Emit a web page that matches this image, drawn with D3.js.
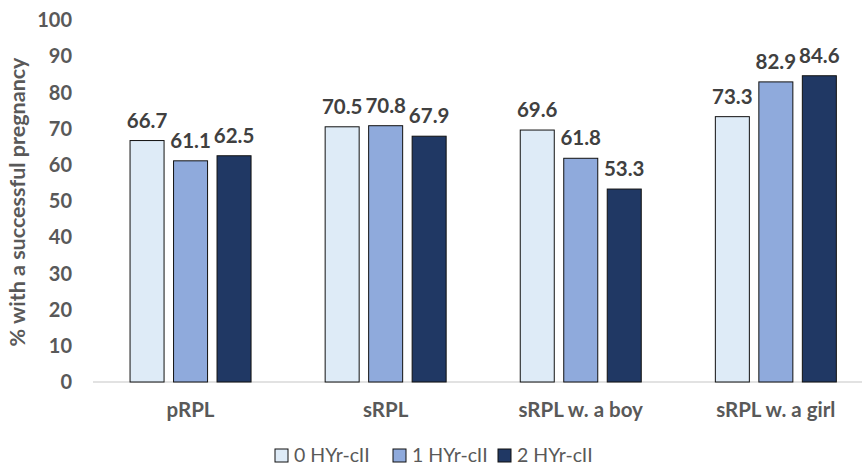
<!DOCTYPE html>
<html><head><meta charset="utf-8">
<script src="https://cdn.jsdelivr.net/npm/d3@7"></script>
<style>html,body{margin:0;padding:0;background:#fff}svg{display:block}</style>
</head><body><svg id="c" width="862" height="465"></svg>
<script>
const categories = ["pRPL", "sRPL", "sRPL w. a boy", "sRPL w. a girl"];
const seriesNames = ["0 HYr-cII", "1 HYr-cII", "2 HYr-cII"];
const s0 = [66.7, 70.5, 69.6, 73.3];
const s1 = [61.1, 70.8, 61.8, 82.9];
const s2 = [62.5, 67.9, 53.3, 84.6];
const yTicks = [0, 10, 20, 30, 40, 50, 60, 70, 80, 90, 100];
const colors = ["#DEEBF7", "#8FAADC", "#203864"];
const series = [s0, s1, s2];

const svg = d3.select("#c");
const font = "Lato, 'Liberation Sans', Arial, sans-serif";
const y = d3.scaleLinear().domain([0, 100]).range([382, 20]);
const x0 = d3.scaleBand().domain(categories).range([93, 873.4]).paddingInner(0).paddingOuter(0);
const GW = 121;
const x1 = d3.scaleBand().domain(seriesNames).range([0, GW]).paddingInner(0.218).paddingOuter(0);
const groupOffset = (x0.bandwidth() - GW) / 2;

// axis line
svg.append("line").attr("x1", 93).attr("x2", 862).attr("y1", y(0)).attr("y2", y(0))
  .attr("stroke", "#D9D9D9").attr("stroke-width", 1.5);

// y tick labels
svg.append("g").selectAll("text").data(yTicks).join("text")
  .attr("x", 72).attr("y", d => y(d)).attr("dy", "0.36em")
  .attr("text-anchor", "end").attr("font-family", font).attr("font-weight", "bold")
  .attr("font-size", 20).attr("fill", "#595959").text(d => d);

// y title
svg.append("text").attr("transform", "translate(25,202) rotate(-90)")
  .attr("text-anchor", "middle").attr("font-family", font).attr("font-weight", "bold")
  .attr("font-size", 21.5).attr("fill", "#595959").text("% with a successful pregnancy");

// bars
const g = svg.append("g");
series.forEach((vals, si) => {
  g.append("g").selectAll("rect").data(categories).join("rect")
    .attr("x", c => x0(c) + groupOffset + x1(seriesNames[si]))
    .attr("y", (c, i) => y(vals[i]))
    .attr("width", x1.bandwidth())
    .attr("height", (c, i) => y(0) - y(vals[i]))
    .attr("fill", colors[si]).attr("stroke", "#111").attr("stroke-width", 1);
  g.append("g").selectAll("text").data(categories).join("text")
    .attr("x", c => x0(c) + groupOffset + x1(seriesNames[si]) + x1.bandwidth() / 2)
    .attr("y", (c, i) => y(vals[i]) - 13)
    .attr("text-anchor", "middle").attr("font-family", font).attr("font-weight", "bold")
    .attr("font-size", 20.5).attr("fill", "#404040").text((c, i) => vals[i].toFixed(1));
});

// category labels
svg.append("g").selectAll("text").data(categories).join("text")
  .attr("x", c => x0(c) + x0.bandwidth() / 2)
  .attr("y", 417).attr("text-anchor", "middle").attr("font-family", font)
  .attr("font-weight", "bold").attr("font-size", 20.5).attr("fill", "#595959").text(c => c);

// legend
const legX = [275, 393, 498];
const lg = svg.append("g").selectAll("g").data(seriesNames).join("g")
  .attr("transform", (d, i) => `translate(${legX[i]},449)`);
lg.append("rect").attr("width", 13).attr("height", 13)
  .attr("fill", (d, i) => colors[i]).attr("stroke", "#111").attr("stroke-width", 1);
lg.append("text").attr("x", 19).attr("y", 13).attr("font-family", font)
  .attr("font-size", 19.5).attr("fill", "#595959").text(d => d);
</script></body></html>
